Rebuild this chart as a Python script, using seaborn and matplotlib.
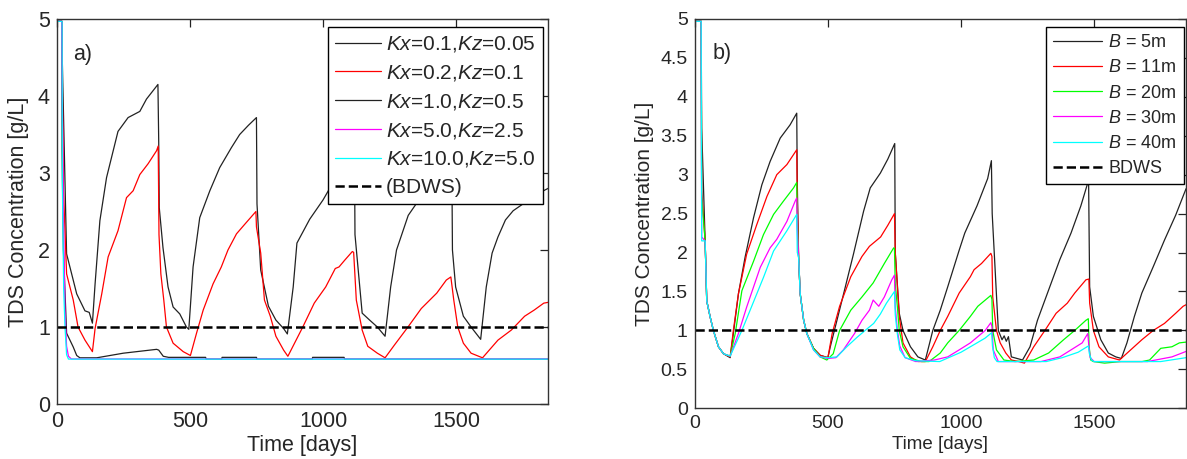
import numpy as np
import pandas as pd
import matplotlib
matplotlib.use("Agg")
import matplotlib.pyplot as plt
import matplotlib.ticker as mticker
from matplotlib import font_manager
import seaborn as sns

# ---------------- data: panel a) ----------------
t_kx01 = [0, 19, 20, 37, 75, 106, 122, 134, 144, 162, 187, 230, 268, 312, 337, 380, 383, 385, 399, 418, 437, 462, 487, 496,
          512, 537, 575, 612, 656, 687, 720, 750, 752, 766, 795, 823, 852, 866, 888, 902, 950, 1000, 1050, 1090, 1118,
          1120, 1147, 1175, 1204, 1233, 1254, 1276, 1320, 1370, 1420, 1460, 1484, 1486, 1498, 1527, 1556, 1592, 1613,
          1635, 1657, 1685, 1714, 1760, 1800, 1845]
c_kx01 = [4.97, 4.97, 4.6, 1.95, 1.43, 1.21, 1.19, 1.05, 1.56, 2.38, 2.94, 3.54, 3.72, 3.8, 3.96, 4.15, 3.4, 2.55, 2.03, 1.52,
          1.26, 1.17, 1.0, 0.97, 1.78, 2.42, 2.77, 3.07, 3.33, 3.5, 3.62, 3.72, 2.6, 1.74, 1.27, 1.09, 0.98, 0.91, 1.52,
          2.09, 2.4, 2.65, 2.95, 3.15, 3.3, 2.2, 1.18, 1.09, 1.0, 0.88, 1.52, 2.0, 2.45, 2.7, 2.85, 2.95, 3.0, 2.0, 1.52,
          1.14, 1.0, 0.84, 1.52, 1.96, 2.17, 2.39, 2.51, 2.62, 2.72, 2.8]

t_kx02 = [0, 19, 20, 25, 37, 62, 80, 106, 134, 144, 169, 193, 230, 262, 287, 312, 343, 375, 381, 384, 391, 402, 412, 437,
          475, 502, 525, 550, 587, 618, 643, 675, 710, 748, 750, 766, 780, 802, 823, 852, 868, 924, 967, 1010, 1046, 1060,
          1082, 1110, 1115, 1125, 1147, 1168, 1204, 1233, 1269, 1319, 1369, 1427, 1463, 1480, 1491, 1506, 1527, 1556,
          1599, 1657, 1707, 1757, 1793, 1829, 1845]
c_kx02 = [4.97, 4.97, 4.5, 2.8, 1.69, 1.35, 1.0, 0.83, 0.68, 0.98, 1.43, 1.91, 2.25, 2.68, 2.77, 2.98, 3.12, 3.29, 3.35, 2.2,
          1.69, 1.35, 1.0, 0.79, 0.68, 0.63, 0.92, 1.22, 1.56, 1.78, 2.0, 2.21, 2.35, 2.5, 2.3, 1.96, 1.35, 1.14, 0.88,
          0.70, 0.62, 1.0, 1.31, 1.52, 1.76, 1.78, 1.87, 1.98, 1.97, 1.35, 0.96, 0.75, 0.66, 0.6, 0.77, 1.0, 1.24, 1.44,
          1.61, 1.65, 1.35, 1.0, 0.79, 0.66, 0.6, 0.83, 0.96, 1.14, 1.22, 1.31, 1.32]

t_kx10 = [0, 19, 20, 25, 37, 62, 75, 87, 150, 250, 375, 383, 400, 420, 559, 561, 619, 621, 750, 752, 959, 961, 1079,
          1081, 1845]
c_kx10 = [4.97, 4.97, 3.3, 2.0, 0.92, 0.74, 0.63, 0.6, 0.6, 0.66, 0.71, 0.70, 0.62, 0.606, 0.606, 0.583, 0.583, 0.606,
          0.606, 0.583, 0.583, 0.606, 0.606, 0.583, 0.583]

t_kx50 = [0, 19, 20, 25, 31, 37, 44, 55, 1845]
c_kx50 = [4.97, 4.97, 4.3, 2.5, 1.2, 0.75, 0.62, 0.585, 0.585]

t_kx100 = [0, 20, 21, 26, 31, 37, 44, 1845]
c_kx100 = [4.97, 4.97, 2.9, 1.5, 1.0, 0.64, 0.583, 0.583]

labels_a = ["$Kx$=0.1,$Kz$=0.05", "$Kx$=0.2,$Kz$=0.1", "$Kx$=1.0,$Kz$=0.5",
            "$Kx$=5.0,$Kz$=2.5", "$Kx$=10.0,$Kz$=5.0"]
bdws_label_a = "(BDWS)"

# ---------------- data: panel b) ----------------
t_b5 = [0, 24, 26, 39, 45, 58, 70, 89, 108, 133, 145, 164, 189, 221, 252, 283, 321, 358, 383, 385, 390, 396, 409, 421, 446,
        471, 500, 509, 534, 559, 596, 634, 659, 697, 725, 751, 753, 768, 782, 810, 838, 866, 894, 922, 950, 993, 1014,
        1060, 1100, 1114, 1117, 1140, 1154, 1162, 1170, 1178, 1189, 1231, 1259, 1287, 1329, 1371, 1413, 1450, 1479,
        1483, 1497, 1525, 1553, 1581, 1602, 1623, 1651, 1679, 1722, 1764, 1806, 1845]
c_b5 = [4.97, 4.97, 3.6, 2.15, 1.38, 1.17, 1.0, 0.79, 0.70, 0.65, 0.96, 1.47, 1.94, 2.45, 2.87, 3.17, 3.47, 3.64, 3.79, 2.9,
        1.94, 1.47, 1.13, 0.96, 0.77, 0.68, 0.65, 0.79, 1.13, 1.47, 1.98, 2.53, 2.83, 3.02, 3.2, 3.4, 2.0, 1.22, 1.0,
        0.79, 0.66, 0.62, 1.0, 1.26, 1.56, 2.03, 2.25, 2.6, 2.95, 3.18, 2.5, 1.0, 0.88, 0.93, 0.86, 0.92, 0.66, 0.62,
        0.79, 1.13, 1.52, 1.91, 2.25, 2.6, 2.93, 1.56, 1.18, 0.88, 0.71, 0.66, 0.64, 0.84, 1.18, 1.48, 1.82, 2.16, 2.48,
        2.82]

t_b11 = [0, 24, 26, 39, 45, 58, 70, 89, 108, 133, 145, 164, 195, 233, 271, 308, 346, 383, 385, 390, 396, 409, 421, 446,
         471, 500, 516, 544, 586, 628, 656, 698, 725, 750, 753, 761, 768, 782, 810, 838, 866, 894, 922, 950, 993, 1035,
         1049, 1077, 1112, 1116, 1119, 1133, 1147, 1168, 1189, 1217, 1238, 1273, 1315, 1357, 1399, 1427, 1469, 1480,
         1483, 1497, 1518, 1553, 1595, 1637, 1679, 1722, 1764, 1806, 1834, 1845]
c_b11 = [4.97, 4.97, 2.8, 2.15, 1.38, 1.17, 1.0, 0.79, 0.70, 0.66, 1.0, 1.47, 1.98, 2.36, 2.72, 3.0, 3.13, 3.32, 2.7, 1.94,
         1.47, 1.13, 0.96, 0.77, 0.68, 0.65, 0.96, 1.31, 1.69, 1.95, 2.08, 2.2, 2.35, 2.5, 2.0, 1.56, 1.18, 0.84, 0.66,
         0.6, 0.6, 0.79, 1.0, 1.18, 1.48, 1.69, 1.78, 1.86, 1.99, 1.95, 1.43, 1.0, 0.84, 0.71, 0.62, 0.6, 0.58, 0.79,
         1.0, 1.22, 1.35, 1.48, 1.65, 1.66, 1.35, 1.0, 0.79, 0.66, 0.62, 0.75, 0.88, 1.0, 1.09, 1.22, 1.31, 1.33]

t_b20 = [0, 24, 26, 39, 45, 58, 70, 89, 108, 133, 152, 177, 221, 258, 296, 333, 371, 383, 385, 390, 396, 409, 421, 446,
         471, 496, 520, 544, 586, 628, 670, 712, 747, 750, 753, 761, 768, 782, 810, 852, 880, 922, 950, 993, 1035, 1063,
         1091, 1112, 1116, 1119, 1133, 1161, 1203, 1273, 1329, 1385, 1427, 1469, 1478, 1481, 1487, 1497, 1539, 1600,
         1680, 1708, 1750, 1792, 1820, 1845]
c_b20 = [4.97, 4.97, 2.7, 2.15, 1.38, 1.17, 1.0, 0.79, 0.70, 0.67, 0.96, 1.51, 1.89, 2.23, 2.49, 2.66, 2.83, 2.9, 2.4, 1.94,
         1.47, 1.13, 0.96, 0.77, 0.66, 0.62, 0.7, 1.0, 1.26, 1.43, 1.61, 1.86, 2.06, 2.05, 1.6, 1.3, 1.0, 0.79, 0.64,
         0.6, 0.6, 0.71, 0.84, 1.0, 1.18, 1.31, 1.39, 1.45, 1.4, 1.0, 0.75, 0.62, 0.6, 0.62, 0.71, 0.88, 1.0, 1.13,
         1.15, 0.79, 0.62, 0.6, 0.58, 0.6, 0.6, 0.62, 0.77, 0.79, 0.84, 0.85]

t_b30 = [0, 24, 26, 39, 45, 58, 70, 89, 108, 133, 164, 195, 246, 283, 308, 346, 377, 383, 385, 390, 396, 409, 421, 446,
         471, 500, 530, 558, 600, 628, 656, 670, 691, 712, 740, 750, 753, 761, 770, 790, 830, 900, 950, 993, 1035, 1063,
         1091, 1112, 1116, 1121, 1140, 1300, 1371, 1413, 1455, 1476, 1480, 1485, 1500, 1700, 1792, 1845]
c_b30 = [4.97, 4.97, 2.2, 2.15, 1.38, 1.17, 1.0, 0.79, 0.70, 0.67, 0.96, 1.3, 1.81, 2.06, 2.17, 2.4, 2.66, 2.7, 2.3, 1.94,
         1.47, 1.13, 0.96, 0.75, 0.66, 0.64, 0.65, 0.75, 0.96, 1.13, 1.26, 1.39, 1.31, 1.43, 1.65, 1.71, 1.3, 1.0, 0.8,
         0.65, 0.6, 0.62, 0.66, 0.75, 0.84, 0.92, 1.0, 1.1, 1.05, 0.75, 0.6, 0.6, 0.66, 0.75, 0.84, 0.96, 0.8, 0.65, 0.6,
         0.6, 0.66, 0.73]

t_b40 = [0, 24, 26, 39, 45, 58, 70, 89, 108, 133, 177, 208, 258, 296, 346, 383, 385, 390, 396, 409, 421, 446, 471, 500,
         534, 571, 609, 647, 672, 697, 720, 750, 753, 761, 770, 790, 830, 920, 960, 1000, 1050, 1090, 1115, 1118, 1125,
         1135, 1320, 1380, 1440, 1478, 1482, 1490, 1500, 1750, 1845]
c_b40 = [4.97, 4.97, 2.15, 2.15, 1.38, 1.17, 1.0, 0.79, 0.70, 0.67, 1.0, 1.26, 1.68, 2.02, 2.28, 2.49, 2.0, 1.94, 1.47,
         1.13, 0.96, 0.75, 0.66, 0.65, 0.66, 0.79, 0.91, 1.02, 1.09, 1.21, 1.35, 1.5, 1.2, 0.95, 0.75, 0.65, 0.61, 0.6,
         0.66, 0.72, 0.82, 0.9, 0.97, 0.8, 0.65, 0.6, 0.6, 0.65, 0.72, 0.8, 0.7, 0.62, 0.6, 0.6, 0.65]

labels_b = ["$B$ = 5m", "$B$ = 11m", "$B$ = 20m", "$B$ = 30m", "$B$ = 40m"]
bdws_label_b = "BDWS"

bdws_level = 1.0
x_max = 1845
yticks_a = [0, 1, 2, 3, 4, 5]
yticks_b = [0, 0.5, 1, 1.5, 2, 2.5, 3, 3.5, 4, 4.5, 5]
xticks = [0, 500, 1000, 1500]

# ---------------- style ----------------
sns.set_style("white")
avail = {f.name for f in font_manager.fontManager.ttflist}
base_font = "Liberation Sans" if "Liberation Sans" in avail else "DejaVu Sans"
narrow_font = "Liberation Sans Narrow" if "Liberation Sans Narrow" in avail else base_font
plt.rcParams["font.family"] = [base_font, "DejaVu Sans"]
plt.rcParams["mathtext.fontset"] = "custom"
plt.rcParams["mathtext.it"] = base_font + ":italic"
plt.rcParams["mathtext.rm"] = base_font

dark = "#222222"
colors = [dark, "#ff0000", "#00ff00", "#ff00ff", "#00ffff"]
colors_a = [dark, "#ff0000", dark, "#ff00ff", "#00ffff"]

fig = plt.figure(figsize=(11.87, 4.59), dpi=100)
ax1 = fig.add_axes([0.0478, 0.1198, 0.4139, 0.8388])
ax2 = fig.add_axes([0.5853, 0.1105, 0.4139, 0.8482])


def draw(ax, series, labels, cols, bdws_label):
    for (t, c), lab, col in zip(series, labels, cols):
        df = pd.DataFrame({"t": t, "c": c})
        sns.lineplot(data=df, x="t", y="c", ax=ax, color=col, lw=0.9, label=lab,
                     estimator=None, sort=False)
    df_b = pd.DataFrame({"t": [0, x_max], "c": [bdws_level, bdws_level]})
    sns.lineplot(data=df_b, x="t", y="c", ax=ax, color="black", lw=1.8, ls="--",
                 label=bdws_label, estimator=None, sort=False)


draw(ax1, [(t_kx01, c_kx01), (t_kx02, c_kx02), (t_kx10, c_kx10), (t_kx50, c_kx50), (t_kx100, c_kx100)],
     labels_a, colors_a, bdws_label_a)
draw(ax2, [(t_b5, c_b5), (t_b11, c_b11), (t_b20, c_b20), (t_b30, c_b30), (t_b40, c_b40)],
     labels_b, colors, bdws_label_b)

fmt = mticker.FuncFormatter(lambda v, p: f"{v:g}")
for ax, yt in ((ax1, yticks_a), (ax2, yticks_b)):
    ax.set_xlim(0, x_max)
    ax.set_ylim(0, 5)
    ax.set_xticks(xticks)
    ax.set_yticks(yt)
    ax.yaxis.set_major_formatter(fmt)
    ax.tick_params(direction="in", length=6, width=0.9, top=True, right=True, color=dark)
    for s in ax.spines.values():
        s.set_color("#333333")
        s.set_linewidth(1.0)

ax1.tick_params(labelsize=15.5, pad=5)
ax1.set_xlabel("Time [days]", fontsize=15.5, labelpad=2)
ax1.set_ylabel("TDS Concentration [g/L]", fontsize=15.5, labelpad=6)
ax1.text(62, 4.54, "a)", fontsize=15.5, va="center", ha="left")

for lab in ax2.get_xticklabels() + ax2.get_yticklabels():
    lab.set_fontfamily(narrow_font)
ax2.tick_params(labelsize=14, pad=5)
ax2.set_xlabel("Time [days]", fontsize=13.5, labelpad=3, fontfamily=narrow_font)
ax2.set_ylabel("TDS Concentration [g/L]", fontsize=15, labelpad=5, fontfamily=narrow_font)
ax2.text(66, 4.55, "b)", fontsize=15.5, va="center", ha="left")

leg1 = ax1.legend(loc="upper right", bbox_to_anchor=(0.99, 0.979), borderaxespad=0, fontsize=15,
                  handlelength=2.2, handletextpad=0.25, labelspacing=0.42, borderpad=0.35,
                  fancybox=False, framealpha=1, edgecolor="black")
leg1.get_frame().set_linewidth(1.0)
leg2 = ax2.legend(loc="upper right", bbox_to_anchor=(0.996, 0.979), borderaxespad=0, fontsize=13,
                  handlelength=2.7, handletextpad=0.35, labelspacing=0.45, borderpad=0.4,
                  fancybox=False, framealpha=1, edgecolor="black")
leg2.get_frame().set_linewidth(1.0)

fig.savefig("out.png", dpi=100)
